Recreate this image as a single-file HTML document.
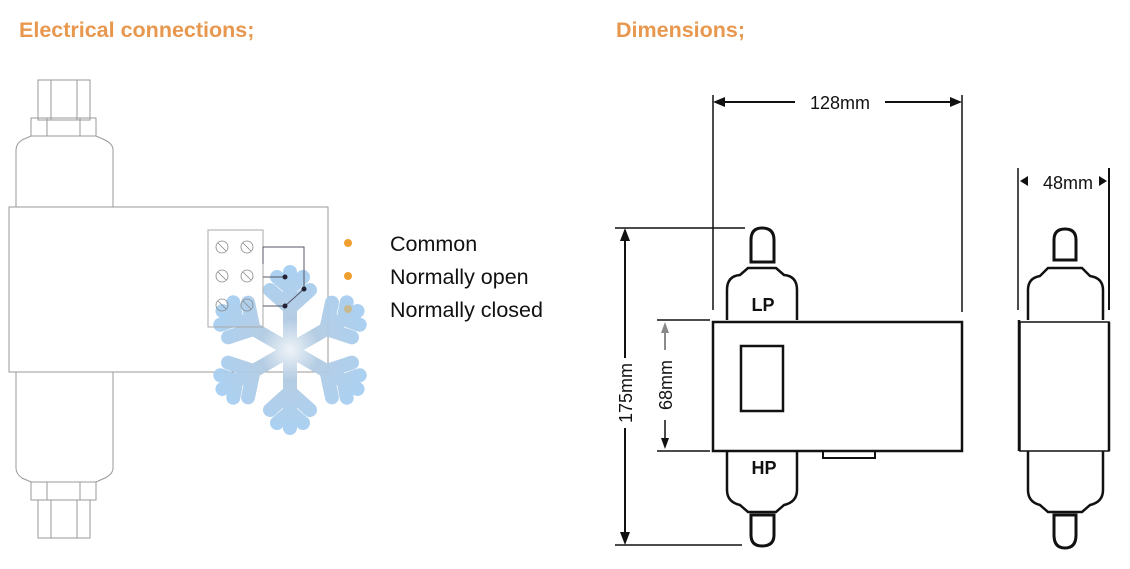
<!DOCTYPE html>
<html><head><meta charset="utf-8"><style>
body{margin:0;background:#fff;width:1130px;height:569px;overflow:hidden}
svg{display:block}
</style></head><body>
<svg width="1130" height="569" viewBox="0 0 1130 569" xmlns="http://www.w3.org/2000/svg" font-family="Liberation Sans, sans-serif">
<defs>
<radialGradient id="sg" cx="290" cy="350" r="85" gradientUnits="userSpaceOnUse">
<stop offset="0" stop-color="#eef3f8"/><stop offset="0.35" stop-color="#b2cbe2"/><stop offset="1" stop-color="#a6cff3"/>
</radialGradient>
</defs>
<text x="19" y="37" font-size="21.5" font-weight="bold" fill="#e8984e">Electrical connections;</text>
<text x="616" y="37" font-size="21.5" font-weight="bold" fill="#e8984e">Dimensions;</text>

<!-- left device -->
<g fill="none" stroke="#999" stroke-width="1">
<rect x="38" y="80" width="52" height="40"/><line x1="51" y1="80" x2="51" y2="120"/><line x1="77" y1="80" x2="77" y2="120"/>
<rect x="31" y="118" width="65" height="18"/><line x1="47" y1="118" x2="47" y2="136"/><line x1="80" y1="118" x2="80" y2="136"/>
<path d="M16,207 V150 Q16,144 22,140 L31,136 H96 L105,140 Q113,144 113,150 V207"/>
<path d="M16,372 V468 Q16,474 22,478 L31,482 H96 L105,478 Q113,474 113,468 V372"/>
<rect x="31" y="482" width="65" height="18"/><line x1="47" y1="482" x2="47" y2="500"/><line x1="80" y1="482" x2="80" y2="500"/>
<rect x="38" y="500" width="52" height="38"/><line x1="51" y1="500" x2="51" y2="538"/><line x1="77" y1="500" x2="77" y2="538"/>
<rect x="9" y="207" width="319" height="165"/>
</g>
<!-- snowflake -->
<g stroke="url(#sg)" stroke-width="14" stroke-linecap="round" fill="none" opacity="0.95">
<g id="arm"><line x1="290" y1="350" x2="290" y2="272"/><line x1="290" y1="308" x2="270" y2="290"/><line x1="290" y1="308" x2="310" y2="290"/><line x1="290" y1="288" x2="277" y2="277"/><line x1="290" y1="288" x2="303" y2="277"/></g>
<use href="#arm" transform="rotate(60 290 350)"/><use href="#arm" transform="rotate(120 290 350)"/><use href="#arm" transform="rotate(180 290 350)"/><use href="#arm" transform="rotate(240 290 350)"/><use href="#arm" transform="rotate(300 290 350)"/>
</g>
<!-- terminal -->
<rect x="208" y="230" width="55" height="97" fill="none" stroke="#aaa"/>
<g fill="none" stroke="#888" stroke-width="0.8">
<circle cx="222" cy="247" r="6"/><circle cx="247" cy="247" r="6"/><circle cx="222" cy="276" r="6"/><circle cx="247" cy="276" r="6"/><circle cx="222" cy="305" r="6"/><circle cx="247" cy="305" r="6"/>
<path d="M218,243l8,8M243,243l8,8M218,272l8,8M243,272l8,8M218,301l8,8M243,301l8,8"/>
</g>
<g stroke="#556" stroke-width="1" fill="none">
<path d="M263,264 V247 H304 V289"/><path d="M263,277 H285"/><path d="M263,306 H285 L304,289"/>
</g>
<g fill="#223"><circle cx="285" cy="277" r="2.5"/><circle cx="304" cy="289" r="2.5"/><circle cx="285" cy="306" r="2.5"/></g>
<circle cx="348" cy="243" r="4" fill="#f0a030"/><circle cx="348" cy="276" r="4" fill="#f0a030"/><circle cx="348" cy="309" r="4" fill="#c8b890"/>
<g font-size="21.5" fill="#111"><text x="390" y="251">Common</text><text x="390" y="284">Normally open</text><text x="390" y="317">Normally closed</text></g>

<!-- right drawing -->
<g stroke="#111" fill="none">
<line x1="713" y1="95" x2="713" y2="310" stroke-width="1.5"/><line x1="962" y1="95" x2="962" y2="312" stroke-width="1.5"/>
<line x1="720" y1="102" x2="795" y2="102" stroke-width="2"/><line x1="885" y1="102" x2="955" y2="102" stroke-width="2"/>
<line x1="615" y1="228" x2="745" y2="228" stroke-width="1.5"/><line x1="615" y1="545" x2="742" y2="545" stroke-width="1.5"/>
<line x1="625" y1="236" x2="625" y2="358" stroke-width="2"/><line x1="625" y1="428" x2="625" y2="537" stroke-width="2"/>
<line x1="657" y1="320" x2="710" y2="320" stroke-width="1.5"/><line x1="657" y1="451" x2="710" y2="451" stroke-width="1.5"/>
<line x1="665" y1="330" x2="665" y2="350" stroke-width="1.5" stroke="#666"/><line x1="665" y1="420" x2="665" y2="443" stroke-width="1.5"/>
<rect x="713" y="322" width="249" height="129" stroke-width="2.5"/>
<rect x="741" y="346" width="42" height="65" stroke-width="2.5"/>
<path d="M727,320 V290 Q727,276 740,275 L748,268 H776 L784,275 Q797,276 797,290 V320" stroke-width="2.5"/>
<path d="M751,262 V240 Q751,228 762,228 Q774,228 774,240 V262 Z" stroke-width="3"/>
<path d="M727,451 V490 Q727,502 740,505 L748,512 H776 L784,505 Q797,502 797,490 V451" stroke-width="2.5"/>
<path d="M751,515 V535 Q751,546 762,546 Q774,546 774,535 V515 Z" stroke-width="3"/>
<rect x="823" y="451" width="52" height="7" stroke-width="2"/>
<line x1="1018" y1="168" x2="1018" y2="310" stroke-width="1.5"/><line x1="1109" y1="168" x2="1109" y2="310" stroke-width="2"/>
<line x1="1019" y1="320" x2="1019" y2="451" stroke-width="2.5"/><line x1="1109" y1="322" x2="1109" y2="451" stroke-width="2.5"/>
<rect x="1020" y="322" width="89" height="129" stroke-width="1.5"/>
<path d="M1028,320 V290 Q1028,278 1040,276 L1048,268 H1082 L1090,276 Q1103,278 1103,290 V320" stroke-width="2.5"/>
<path d="M1054,260 V240 Q1054,229 1065,229 Q1076,229 1076,240 V260 Z" stroke-width="3"/>
<path d="M1028,451 V490 Q1028,502 1040,505 L1048,512 H1082 L1090,505 Q1103,502 1103,490 V451" stroke-width="2.5"/>
<path d="M1054,515 V535 Q1054,548 1065,548 Q1076,548 1076,535 V515 Z" stroke-width="3"/>
</g>
<g fill="#111">
<polygon points="713,102 725,97 725,107"/><polygon points="962,102 950,97 950,107"/>
<polygon points="625,228 620,241 630,241"/><polygon points="625,545 620,532 630,532"/>
<polygon points="665,322 661,333 669,333" fill="#888"/><polygon points="665,449 661,438 669,438"/>
<polygon points="1020,181 1028,176 1028,186"/><polygon points="1107,181 1099,176 1099,186"/>
</g>
<g font-size="18" fill="#111">
<text x="840" y="109" text-anchor="middle">128mm</text>
<text x="1068" y="189" text-anchor="middle">48mm</text>
<text transform="translate(632,393) rotate(-90)" text-anchor="middle">175mm</text>
<text transform="translate(672,385) rotate(-90)" text-anchor="middle">68mm</text>
<text x="763" y="311" text-anchor="middle" font-weight="bold">LP</text>
<text x="764" y="474" text-anchor="middle" font-weight="bold">HP</text>
</g>
</svg>
</body></html>
